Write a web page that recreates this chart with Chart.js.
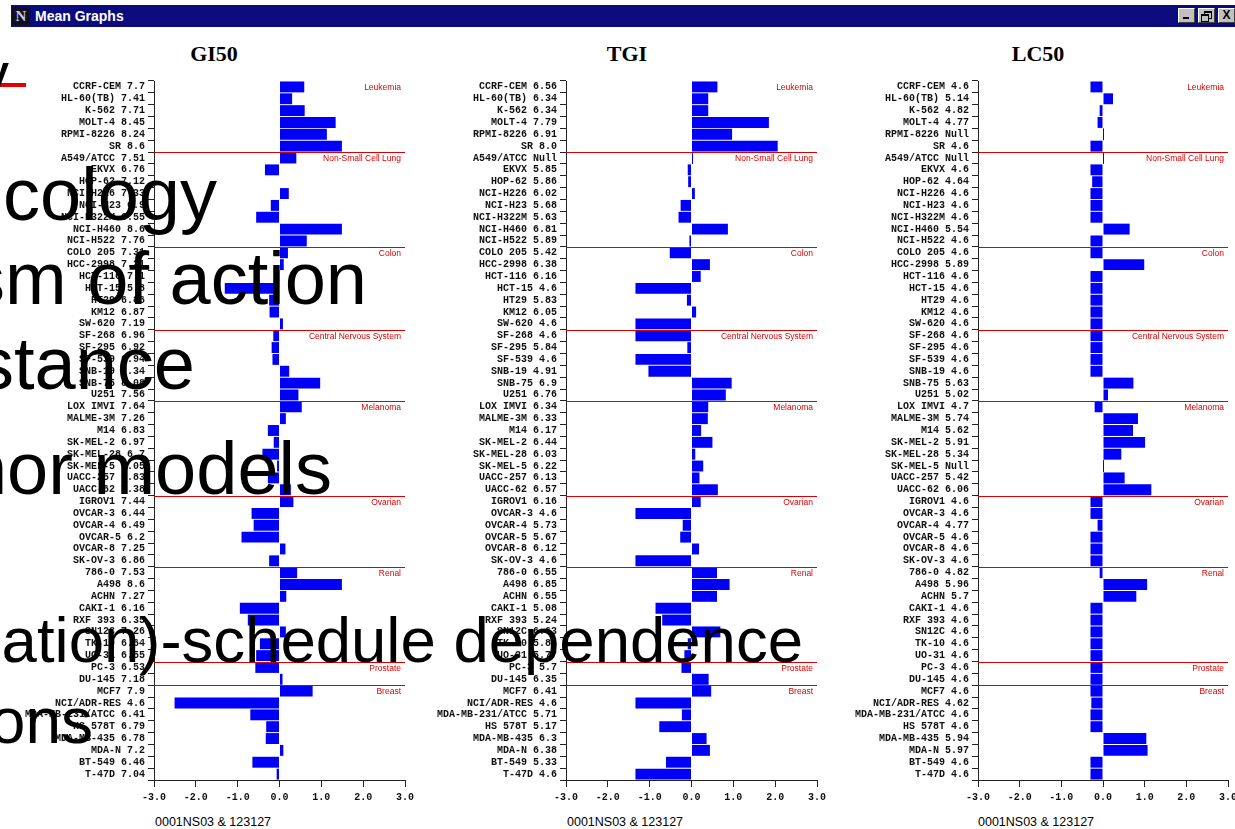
<!DOCTYPE html>
<html>
<head>
<meta charset="utf-8">
<title>Mean Graphs</title>
<script src="https://cdn.jsdelivr.net/npm/chart.js@4.4.1/dist/chart.umd.min.js"></script>
<style>
  html, body { margin: 0; padding: 0; background: #fff; }
  #stage { position: relative; width: 1235px; height: 829px; overflow: hidden; background: #fff;
           font-family: "Liberation Sans", Arial, sans-serif; }
  .titlebar { position: absolute; left: 11px; top: 5px; width: 1224px; height: 22px; background: #0b0b7e; }
  .appicon { position: absolute; left: 12px; top: 7px; width: 18px; height: 18px; background: #101020;
             color: #c8c8e8; font: bold 15px "Liberation Serif", serif; line-height: 18px; text-align: center; }
  .wintitle { position: absolute; left: 35px; top: 8px; color: #fff; font: bold 14px "Liberation Sans", Arial, sans-serif;
              line-height: 16px; white-space: nowrap; }
  .btn { position: absolute; top: 8px; width: 15px; height: 13px; background: #c0c0c0;
         border-top: 1px solid #fff; border-left: 1px solid #fff; border-right: 1px solid #404040; border-bottom: 1px solid #404040; }
  .btn .min { position: absolute; left: 4px; top: 8px; width: 6px; height: 2px; background: #000; }
  .btn .r1 { position: absolute; left: 5px; top: 2px; width: 6px; height: 5px; border: 1px solid #000; border-top-width: 2px; }
  .btn .r2 { position: absolute; left: 2px; top: 5px; width: 6px; height: 5px; border: 1px solid #000; border-top-width: 2px; background: #c0c0c0; }
  .btn .x { position: absolute; left: 0; top: 0; width: 15px; height: 13px; font: bold 12px "Liberation Sans", Arial, sans-serif;
            line-height: 13px; text-align: center; color: #000; }
  .ptitle { position: absolute; top: 43px; width: 120px; margin-left: -60px; text-align: center;
            font: bold 22px "Liberation Serif", "Times New Roman", serif; line-height: 22px; color: #000; }
  .foot { position: absolute; top: 816px; font: 12.5px "Liberation Sans", Arial, sans-serif; line-height: 12.5px; color: #000; white-space: nowrap; }
  canvas.panel { position: absolute; }
  .slide { position: absolute; white-space: nowrap; color: #000; line-height: 1; font-family: "Liberation Sans", Arial, sans-serif; z-index: 5; }
  .rule { position: absolute; left: 0; top: 83px; width: 26px; height: 4px; background: #e00000; z-index: 5; }
</style>
</head>
<body>
<div id="stage">
  <div class="titlebar"></div>
  <div class="appicon">N</div>
  <div class="wintitle">Mean Graphs</div>
  <div class="btn" style="left:1178px"><div class="min"></div></div>
  <div class="btn" style="left:1198px"><div class="r1"></div><div class="r2"></div></div>
  <div class="btn" style="left:1218px"><div class="x">X</div></div>

  <div class="ptitle" style="left:214px">GI50</div>
  <div class="ptitle" style="left:627px">TGI</div>
  <div class="ptitle" style="left:1038px">LC50</div>

  <canvas id="gi50" class="panel"></canvas>
  <canvas id="tgi" class="panel"></canvas>
  <canvas id="lc50" class="panel"></canvas>

  <div class="foot" id="foot0"></div>
  <div class="foot" id="foot1"></div>
  <div class="foot" id="foot2"></div>

  <div class="rule"></div>
  <div class="slide" id="s0" style="font-weight:bold;font-size:40px">y</div>
  <div class="slide" id="s1" style="font-size:74px">cology</div>
  <div class="slide" id="s2" style="font-size:74px">sm of action</div>
  <div class="slide" id="s3" style="font-size:74px">stance</div>
  <div class="slide" id="s4" style="font-size:74px">nor models</div>
  <div class="slide" id="s5" style="font-size:63.5px">ation)-schedule dependence</div>
  <div class="slide" id="s6" style="font-size:64px">ons</div>
</div>

<script>
// NCI-60 cell line panel, in mean-graph order
const CELL_LINES = [
  'CCRF-CEM', 'HL-60(TB)', 'K-562', 'MOLT-4', 'RPMI-8226', 'SR',
  'A549/ATCC', 'EKVX', 'HOP-62', 'NCI-H226', 'NCI-H23', 'NCI-H322M', 'NCI-H460', 'NCI-H522',
  'COLO 205', 'HCC-2998', 'HCT-116', 'HCT-15', 'HT29', 'KM12', 'SW-620',
  'SF-268', 'SF-295', 'SF-539', 'SNB-19', 'SNB-75', 'U251',
  'LOX IMVI', 'MALME-3M', 'M14', 'SK-MEL-2', 'SK-MEL-28', 'SK-MEL-5', 'UACC-257', 'UACC-62',
  'IGROV1', 'OVCAR-3', 'OVCAR-4', 'OVCAR-5', 'OVCAR-8', 'SK-OV-3',
  '786-0', 'A498', 'ACHN', 'CAKI-1', 'RXF 393', 'SN12C', 'TK-10', 'UO-31',
  'PC-3', 'DU-145',
  'MCF7', 'NCI/ADR-RES', 'MDA-MB-231/ATCC', 'HS 578T', 'MDA-MB-435', 'MDA-N', 'BT-549', 'T-47D'
];
const GROUP_NAMES = ['Leukemia', 'Non-Small Cell Lung', 'Colon', 'Central Nervous System',
                     'Melanoma', 'Ovarian', 'Renal', 'Prostate', 'Breast'];
const GROUP_SIZES = [6, 8, 7, 6, 8, 6, 8, 2, 8];

// -log10 molar values per cell line (null = no result)
const GI50 = [
  7.7, 7.41, 7.71, 8.45, 8.24, 8.6,
  7.51, 6.76, 7.12, 7.33, 6.9, 6.55, 8.6, 7.76,
  7.31, 7.21, 7.1, 5.8, 6.86, 6.87, 7.19,
  6.96, 6.92, 6.94, 7.34, 8.08, 7.56,
  7.64, 7.26, 6.83, 6.97, 6.7, 7.05, 6.83, 7.38,
  7.44, 6.44, 6.49, 6.2, 7.25, 6.86,
  7.53, 8.6, 7.27, 6.16, 6.35, 7.26, 6.64, 6.55,
  6.53, 7.18,
  7.9, 4.6, 6.41, 6.79, 6.78, 7.2, 6.46, 7.04
];
const TGI = [
  6.56, 6.34, 6.34, 7.79, 6.91, 8.0,
  null, 5.85, 5.86, 6.02, 5.68, 5.63, 6.81, 5.89,
  5.42, 6.38, 6.16, 4.6, 5.83, 6.05, 4.6,
  4.6, 5.84, 4.6, 4.91, 6.9, 6.76,
  6.34, 6.33, 6.17, 6.44, 6.03, 6.22, 6.13, 6.57,
  6.16, 4.6, 5.73, 5.67, 6.12, 4.6,
  6.55, 6.85, 6.55, 5.08, 5.24, 6.63, 5.85, 5.77,
  5.7, 6.35,
  6.41, 4.6, 5.71, 5.17, 6.3, 6.38, 5.33, 4.6
];
const LC50 = [
  4.6, 5.14, 4.82, 4.77, null, 4.6,
  null, 4.6, 4.64, 4.6, 4.6, 4.6, 5.54, 4.6,
  4.6, 5.89, 4.6, 4.6, 4.6, 4.6, 4.6,
  4.6, 4.6, 4.6, 4.6, 5.63, 5.02,
  4.7, 5.74, 5.62, 5.91, 5.34, null, 5.42, 6.06,
  4.6, 4.6, 4.77, 4.6, 4.6, 4.6,
  4.82, 5.96, 5.7, 4.6, 4.6, 4.6, 4.6, 4.6,
  4.6, 4.6,
  4.6, 4.62, 4.6, 4.6, 5.94, 5.97, 4.6, 4.6
];
const X_TICKS = [-3, -2, -1, 0, 1, 2, 3];
const RUN_ID = '0001NS03 & 123127';

const fmt = v => v == null ? 'Null' : (Number.isInteger(v) ? v.toFixed(1) : String(v));

// separators between tissue panels, panel names, and zero hairlines for missing results
const panelMarks = {
  id: 'panelMarks',
  afterDatasetsDraw(chart, args, opts) {
    const { ctx, chartArea: a, scales: { x, y } } = chart;
    const band = y.getPixelForValue(1) - y.getPixelForValue(0);
    ctx.save();
    const x0 = Math.round(x.getPixelForValue(0)) + 0.5;
    ctx.strokeStyle = '#0000f8';
    ctx.lineWidth = 1;
    opts.values.forEach((v, i) => {
      if (v == null) {
        const yc = y.getPixelForValue(i);
        ctx.beginPath();
        ctx.moveTo(x0, yc - band * 0.5);
        ctx.lineTo(x0, yc + band * 0.5);
        ctx.stroke();
      }
    });
    ctx.font = '8.5px "Liberation Sans", Arial, sans-serif';
    ctx.fillStyle = '#dd0000';
    ctx.textAlign = 'right';
    ctx.textBaseline = 'middle';
    let start = 0;
    GROUP_NAMES.forEach((name, g) => {
      const yc = y.getPixelForValue(start);
      if (start > 0) {
        const yl = Math.round(yc - band / 2) + 0.5;
        ctx.strokeStyle = '#d80000';
        ctx.beginPath();
        ctx.moveTo(a.left, yl);
        ctx.lineTo(a.right, yl);
        ctx.stroke();
      }
      ctx.fillText(name, a.right - 4, yc + 1);
      start += GROUP_SIZES[g];
    });
    ctx.restore();
  }
};

const LABEL_FONT = { family: '"Liberation Mono", "Courier New", monospace', size: 10, weight: 'bold' };

function meanGraph(id, values, box) {
  const known = values.filter(v => v != null);
  const mean = known.reduce((s, v) => s + v, 0) / known.length;
  const deltas = values.map(v => v == null ? null : v - mean);
  const labels = CELL_LINES.map((n, i) => n + ' ' + fmt(values[i]));

  const cv = document.getElementById(id);
  cv.width = box.width; cv.height = box.height;
  cv.style.left = box.left + 'px'; cv.style.top = box.top + 'px';

  new Chart(cv, {
    type: 'bar',
    data: {
      labels,
      datasets: [{
        data: deltas,
        backgroundColor: '#0000f8',
        borderWidth: 0,
        barPercentage: 0.92,
        categoryPercentage: 1
      }]
    },
    options: {
      indexAxis: 'y',
      responsive: false,
      animation: false,
      devicePixelRatio: 1,
      layout: { padding: { top: 9, right: box.padRight, bottom: 0, left: 0 } },
      plugins: { legend: { display: false }, tooltip: { enabled: false }, panelMarks: { values } },
      scales: {
        x: {
          type: 'linear', min: X_TICKS[0], max: X_TICKS[X_TICKS.length - 1],
          afterBuildTicks: s => { s.ticks = X_TICKS.map(v => ({ value: v })); },
          ticks: { callback: v => Number(v).toFixed(1), font: LABEL_FONT, color: '#111', padding: 4, maxRotation: 0, autoSkip: false },
          grid: { drawOnChartArea: false, drawTicks: true, tickLength: 7, color: '#222', lineWidth: 1 },
          border: { color: '#222', width: 1 },
          afterFit: s => { s.height = 30; }
        },
        y: {
          ticks: { font: LABEL_FONT, color: '#111', padding: 3, autoSkip: false },
          grid: { drawOnChartArea: false, drawTicks: true, tickLength: 6, color: '#222', lineWidth: 1 },
          border: { color: '#222', width: 1 },
          afterFit: s => { s.width = box.axisWidth; }
        }
      }
    },
    plugins: [panelMarks]
  });
}

meanGraph('gi50', GI50, { left: 0,   top: 72, width: 425, height: 738, axisWidth: 154, padRight: 20 });
meanGraph('tgi',  TGI,  { left: 420, top: 72, width: 417, height: 738, axisWidth: 146, padRight: 20 });
meanGraph('lc50', LC50, { left: 830, top: 72, width: 418, height: 738, axisWidth: 148, padRight: 20 });

[155, 567, 978].forEach((x, i) => {
  const f = document.getElementById('foot' + i);
  f.textContent = RUN_ID;
  f.style.left = x + 'px';
});

// large bullet text lying over the window: [id, right edge, baseline]
[['s0', 9, 85], ['s1', 217, 221], ['s2', 367, 305], ['s3', 195, 390],
 ['s4', 332, 495], ['s5', 803, 663], ['s6', 93, 743]].forEach(([id, right, base]) => {
  const el = document.getElementById(id);
  const size = parseFloat(el.style.fontSize);
  el.style.right = (1235 - right) + 'px';
  el.style.top = (base - 0.8465 * size) + 'px';
});
</script>
</body>
</html>
